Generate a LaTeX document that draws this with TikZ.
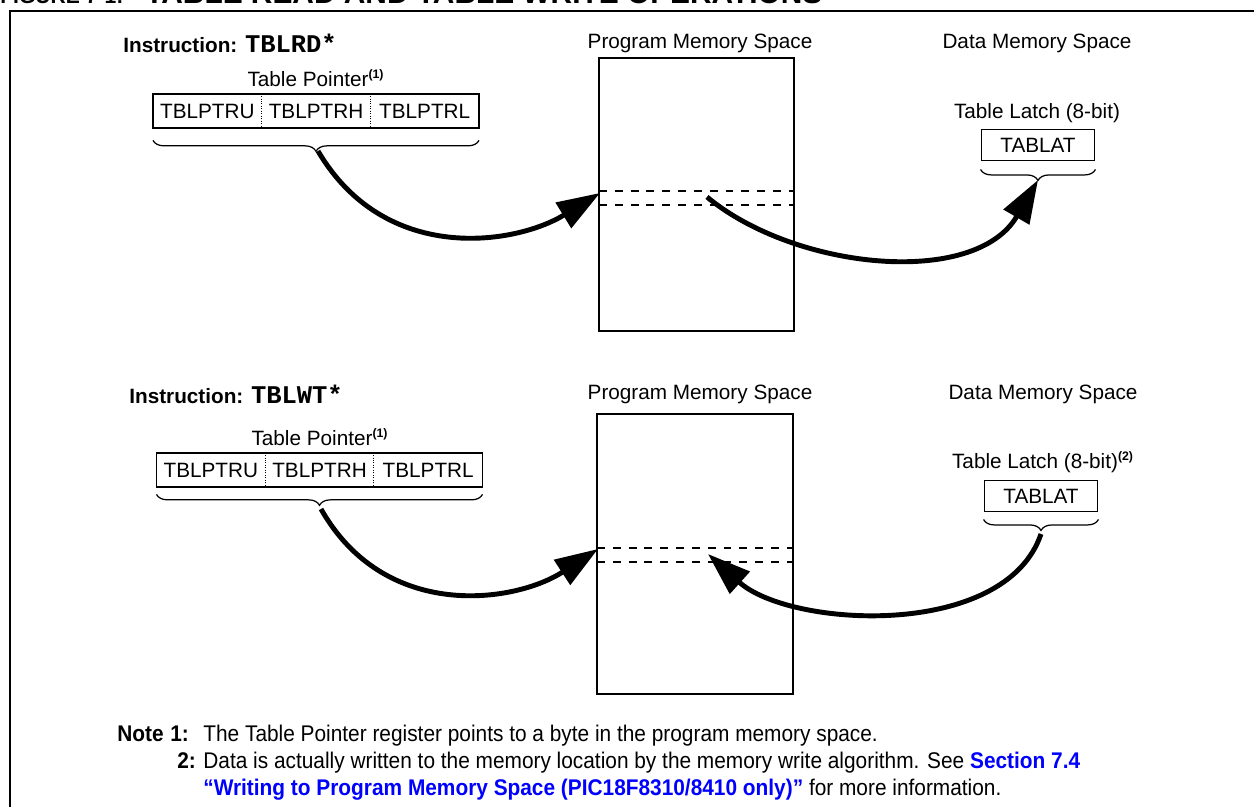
\documentclass[tikz,border=0pt]{standalone}
\usepackage{fontspec}
\setmainfont{Liberation Sans}
\setmonofont{Liberation Mono}
\newfontfamily\narrowfont[FakeStretch=0.92]{Liberation Sans}
\usetikzlibrary{positioning,arrows.meta,decorations.pathreplacing}
\def\regnode{\node[reg]}
\def\sup#1{$^{\textbf{\scriptsize(#1)}}$}

\begin{document}
\begin{tikzpicture}[x=0.02cm,y=-0.02cm,
  every node/.style={font=\fontsize{11.8}{14}\selectfont},
  reg/.style={minimum width=2.16cm,minimum height=0.68cm,inner sep=0pt},
  latch/.style={draw,line width=1.1pt,minimum width=2.26cm,minimum height=0.62cm,inner sep=0pt},
  brc/.style={decorate,decoration={brace,amplitude=0.22cm},line width=0.7pt},
  flow/.style={line width=2.8pt,-{Triangle[length=0.86cm,width=0.58cm]}},
  row/.style={dash pattern=on 4.5pt off 4.5pt,line width=1.1pt},
  note/.style={font=\narrowfont\fontsize{12.9}{14}\selectfont,anchor=base west,inner sep=0pt},
  notenum/.style={note,font=\narrowfont\bfseries\fontsize{12.9}{14}\selectfont}]
\useasboundingbox (0,0) rectangle (1254,807);
\draw[line width=1.4pt] (10,830) -- (10,11) -- (1280,11);
\node[anchor=base west,inner sep=0pt,font=\bfseries\fontsize{12}{14}\selectfont] (fig) at (0,4) {FIGURE 7-1:};
\node[anchor=base west,inner sep=0pt,font=\bfseries\fontsize{17}{20}\selectfont] (title) at (145,3.5) {TABLE READ AND TABLE WRITE OPERATIONS};

\node[anchor=west,inner sep=0pt] (ins1) at (123,43) {\textbf{Instruction: }{\ttfamily\bfseries\fontsize{14.5}{14}\selectfont TBLRD*}};
\node (tp1) at (316,78) {Table Pointer\sup{1}};
\regnode (ptrh1) at (316,111) {TBLPTRH};
\regnode[left=0pt of ptrh1] (ptru1) {TBLPTRU};
\regnode[right=0pt of ptrh1] (ptrl1) {TBLPTRL};
\draw[line width=1.1pt] (ptru1.north west) rectangle (ptrl1.south east);
\draw[densely dotted] (ptrh1.north west) -- (ptrh1.south west);
\draw[densely dotted] (ptrh1.north east) -- (ptrh1.south east);
\draw[brc] ([yshift=-0.24cm]ptrl1.south east) -- ([yshift=-0.24cm]ptru1.south west);
\coordinate (ptip1) at (318,151);

\node (pmt1) at (700,43) {Program Memory Space};
\node[draw,line width=1.1pt,minimum width=3.9cm,minimum height=5.46cm,inner sep=0pt] (mem1) at (696.5,194.5) {};
\draw[row] (599,191) -- (794,191);
\draw[row] (599,205) -- (794,205);
\coordinate (in1) at (600,193);
\coordinate (out1) at (707,197);

\node (dmt1) at (1037,43) {Data Memory Space};
\node (ltt1) at (1037,113) {Table Latch (8-bit)};
\node[latch] (lat1) at (1038,145) {TABLAT};
\draw[brc] ([yshift=-0.16cm]lat1.south east) -- ([yshift=-0.16cm]lat1.south west);
\coordinate (ltip1) at (1038,180);

\draw[flow] (ptip1) .. controls (385,265) and (515,245) .. (in1);
\draw[flow] (out1) .. controls (795,270) and (975,288) .. (ltip1);

\node[anchor=west,inner sep=0pt] (ins2) at (129,394) {\textbf{Instruction: }{\ttfamily\bfseries\fontsize{14.5}{14}\selectfont TBLWT*}};
\node (tp2) at (320,437) {Table Pointer\sup{1}};
\regnode (ptrh2) at (319.5,470) {TBLPTRH};
\regnode[left=0pt of ptrh2] (ptru2) {TBLPTRU};
\regnode[right=0pt of ptrh2] (ptrl2) {TBLPTRL};
\draw[line width=1.1pt] (ptru2.north west) rectangle (ptrl2.south east);
\draw[densely dotted] (ptrh2.north west) -- (ptrh2.south west);
\draw[densely dotted] (ptrh2.north east) -- (ptrh2.south east);
\draw[brc] ([yshift=-0.14cm]ptrl2.south east) -- ([yshift=-0.14cm]ptru2.south west);
\coordinate (ptip2) at (321,509);

\node (pmt2) at (700,394) {Program Memory Space};
\node[draw,line width=1.1pt,minimum width=3.92cm,minimum height=5.6cm,inner sep=0pt] (mem2) at (695,554) {};
\draw[row] (597,548) -- (793,548);
\draw[row] (597,562) -- (793,562);
\coordinate (in2) at (598,549);
\coordinate (in3) at (708,554);

\node (dmt2) at (1043,394) {Data Memory Space};
\node (ltt2) at (1043,462) {Table Latch (8-bit)\sup{2}};
\node[latch] (lat2) at (1041,496) {TABLAT};
\draw[brc] ([yshift=-0.14cm]lat2.south east) -- ([yshift=-0.14cm]lat2.south west);
\coordinate (ltip2) at (1041,534);

\draw[flow] (ptip2) .. controls (385,622) and (515,603) .. (in2);
\draw[flow] (ltip2) .. controls (1005,640) and (790,628) .. (in3);

\node[notenum] (nt) at (117,741) {Note};
\node[notenum] (n1) at (170,741) {1:};
\node[note] (t1) at (203,741) {The Table Pointer register points to a byte in the program memory space.};
\node[notenum] (n2) at (177,768) {2:};
\node[note] (t2) at (203,768) {Data is actually written to the memory location by the memory write algorithm. See \textcolor{blue}{\bfseries Section 7.4}};
\node[note] (t3) at (203,795) {\textcolor{blue}{\bfseries “Writing to Program Memory Space (PIC18F8310/8410 only)”} for more information.};
\end{tikzpicture}
\end{document}
